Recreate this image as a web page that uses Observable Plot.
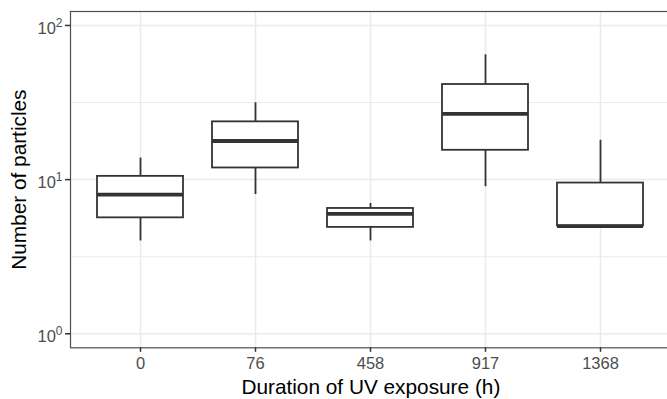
<!DOCTYPE html>
<html>
<head>
<meta charset="utf-8">
<script src="https://cdn.jsdelivr.net/npm/d3@7"></script>
<script src="https://cdn.jsdelivr.net/npm/@observablehq/plot@0.6"></script>
<style>
  html, body { margin: 0; padding: 0; background: white; overflow: hidden; }
</style>
</head>
<body>
<div id="chart"></div>
<script>
// Data (boxplot statistics per UV exposure duration)
const categories  = ["0", "76", "458", "917", "1368"];
const whiskerLow  = [4.0, 8.0, 4.0, 9.0, 5.0];
const q1          = [5.65, 11.9, 4.9, 15.5, 5.0];
const median      = [8.0, 17.8, 6.0, 26.7, 5.0];
const q3          = [10.5, 23.7, 6.5, 41.4, 9.5];
const whiskerHigh = [13.8, 31.5, 7.0, 64.5, 18.0];
const yTicks      = [1, 10, 100];
const yMinorTicks = [3.162, 31.62];
const xTitle = "Duration of UV exposure (h)";
const yTitle = "Number of particles";

const data = categories.map((c, i) => ({
  cat: c, low: whiskerLow[i], q1: q1[i], med: median[i], q3: q3[i], high: whiskerHigh[i]
}));

const dark = "#333333";
const grid = "#EBEBEB";

const chart = Plot.plot({
  width: 667,
  height: 399,
  marginLeft: 70,
  marginRight: -3.7,
  marginTop: 11,
  marginBottom: 51.7,
  style: { fontFamily: "'Liberation Sans', Arial, sans-serif", fontSize: "16px", background: "white", overflow: "hidden" },
  x: { type: "band", domain: categories, paddingInner: 0.25, paddingOuter: 0.217, label: null },
  y: { type: "log", domain: [0.811, 123.2], label: null },
  marks: [
    Plot.ruleY(yMinorTicks, { stroke: grid, strokeWidth: 1.1 }),
    Plot.ruleY(yTicks, { stroke: grid, strokeWidth: 1.5 }),
    Plot.gridX({ stroke: grid, strokeOpacity: 1, strokeWidth: 1.5 }),
    Plot.ruleX(data, { x: "cat", y1: "q3", y2: "high", stroke: dark, strokeWidth: 1.8 }),
    Plot.ruleX(data, { x: "cat", y1: "low", y2: "q1", stroke: dark, strokeWidth: 1.8 }),
    Plot.barY(data, { x: "cat", y1: "q1", y2: "q3", fill: "white", stroke: dark, strokeWidth: 1.8 }),
    Plot.tickY(data, { x: "cat", y: "med", stroke: dark, strokeWidth: 3.8 }),
    Plot.frame({ stroke: "#4D4D4D", strokeWidth: 1.2 }),
    Plot.axisX({ tickSize: 4.5, tickPadding: 4.5, stroke: dark, strokeWidth: 1.5, fill: "#4D4D4D", fontSize: 16.5, label: null }),
    Plot.axisY(yTicks, { tickSize: 5, tickPadding: 3, stroke: dark, strokeWidth: 1.5, fill: "#4D4D4D", fontSize: 16.5, label: null,
      tickFormat: d => String(Math.round(Math.log10(d))) }),
    Plot.text([xTitle], { text: d => d, frameAnchor: "bottom", textAnchor: "middle", dy: 39.4, lineAnchor: "middle", fontSize: 20.8, fill: "black" }),
    Plot.text([yTitle], { text: d => d, frameAnchor: "left", textAnchor: "middle", rotate: -90, dx: -51, lineAnchor: "middle", fontSize: 20.8, fill: "black" })
  ]
});

// Render y tick labels as 10 with a superscript exponent
const ns = "http://www.w3.org/2000/svg";
chart.querySelectorAll('g[aria-label="y-axis tick label"] text').forEach(t => {
  const e = t.textContent;
  t.textContent = "";
  const base = document.createElementNS(ns, "tspan");
  base.setAttribute("dy", "3");
  base.textContent = "10";
  const sup = document.createElementNS(ns, "tspan");
  sup.setAttribute("dy", "-7");
  sup.setAttribute("font-size", "12");
  sup.textContent = e;
  t.append(base, sup);
});

document.getElementById("chart").append(chart);
</script>
</body>
</html>
